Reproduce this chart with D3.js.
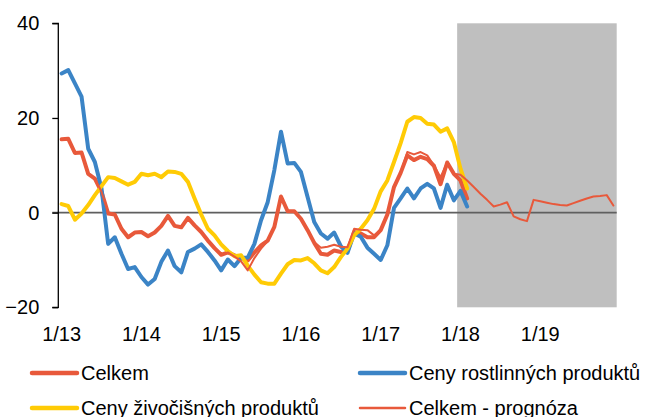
<!DOCTYPE html>
<html>
<head>
<meta charset="utf-8">
<script src="https://cdn.jsdelivr.net/npm/d3@7"></script>
<style>
  html, body { margin: 0; padding: 0; background: #fff; }
  svg { display: block; font-family: "Liberation Sans", Arial, sans-serif; }
</style>
</head>
<body>
<svg id="chart" width="645" height="417"></svg>
<script>
// ---- data ----
const years = [13, 14, 15, 16, 17, 18, 19];
const categories = years.flatMap(yr => d3.range(1, 13).map(m => `${m}/${yr}`));
const tickLabels = ["1/13", "1/14", "1/15", "1/16", "1/17", "1/18", "1/19"];
const yTicks = [-20, 0, 20, 40];
const forecastStart = "1/18";

const celkem = [15.5, 15.6, 12.6, 12.7, 8.2, 7.2, 4.4, -0.2, -0.4, -3.4, -5.2, -4.2,
  -4.1, -5.0, -4.2, -2.8, -0.7, -2.8, -3.1, -1.1, -2.7, -4.1, -5.9, -7.5,
  -8.9, -8.4, -9.0, -9.6, -10.1, -8.4, -6.9, -5.9, -3.0, 3.4, 0.3, 0.3,
  -1.3, -3.7, -6.4, -8.7, -8.9, -8.0, -8.3, -8.2, -4.1, -4.4, -5.2, -5.2,
  -3.7, -0.4, 5.4, 8.4, 12.1, 11.1, 11.8, 11.3, 9.9, 6.0, 10.6, 8.2,
  6.8, 3.0];

const rostlinne = [29.4, 30.1, 27.3, 24.5, 13.5, 10.7, 5.1, -6.6, -5.2, -8.7, -11.9, -11.5,
  -13.6, -15.2, -14.0, -10.4, -8.0, -11.3, -12.6, -8.3, -7.6, -6.7, -8.3, -10.1,
  -12.2, -9.9, -11.3, -9.6, -9.5, -6.6, -1.6, 2.2, 9.0, 17.1, 10.4, 10.5,
  8.6, 3.3, -2.0, -4.4, -5.5, -4.2, -7.1, -8.5, -4.4, -5.1, -7.4, -8.7,
  -10.0, -6.9, 1.0, 3.0, 5.1, 3.0, 5.1, 6.1, 5.1, 1.0, 5.9, 2.6,
  4.6, 1.3];

const zivocisne = [1.8, 1.4, -1.5, -0.2, 1.6, 3.7, 5.6, 7.5, 7.3, 6.6, 5.9, 6.5,
  8.2, 7.9, 8.2, 7.5, 8.7, 8.6, 8.2, 6.5, 3.0, -0.4, -3.4, -4.8,
  -6.7, -8.1, -9.2, -9.0, -11.2, -13.1, -14.7, -15.0, -15.0, -12.9, -10.9, -10.0,
  -10.1, -9.6, -10.7, -12.2, -12.8, -11.5, -9.4, -7.6, -4.8, -3.4, -1.6, 0.8,
  4.5, 6.8, 10.7, 14.7, 19.2, 20.2, 20.0, 18.8, 18.6, 17.1, 17.8, 14.9,
  9.3, 5.1];

const prognoza = [15.5, 15.6, 12.6, 12.7, 8.2, 7.2, 4.4, -0.2, -0.4, -3.4, -5.2, -4.2,
  -4.1, -5.0, -4.2, -2.8, -0.7, -2.8, -3.1, -1.1, -2.7, -4.1, -5.9, -7.5,
  -8.9, -8.4, -9.3, -10.3, -12.2, -9.6, -7.6, -6.0, -3.0, 3.4, 0.3, 0.3,
  -1.3, -3.7, -6.2, -7.4, -7.2, -6.8, -7.2, -7.3, -3.4, -3.6, -3.7, -4.8,
  -3.7, -0.4, 5.4, 8.4, 12.8, 12.3, 12.8, 12.1, 10.0, 7.5, 10.6, 8.2,
  8.0, 6.8, 5.4, 4.0, 2.7, 1.3, 1.7, 2.2, -0.8, -1.4, -1.8, 2.7,
  2.4, 2.1, 1.8, 1.6, 1.5, 2.0, 2.5, 3.0, 3.4, 3.5, 3.7, 1.5];

const seriesNames = ["Celkem", "Ceny rostlinných produktů", "Ceny živočišných produktů", "Celkem - prognóza"];
const seriesColors = ["#E8593B", "#3B84C6", "#FFCB05", "#E8593B"];

// ---- layout ----
const svg = d3.select("#chart");
const plotLeft = 58.3, plotRight = 616.7, plotTop = 23.3, plotBottom = 307.3;

const x = d3.scaleBand().domain(categories).range([plotLeft, plotRight]).padding(0);
const y = d3.scaleLinear().domain([-20, 40]).range([plotBottom, plotTop]);
const cx = i => x(categories[i]) + x.bandwidth() / 2;

// forecast shading
svg.append("rect")
  .attr("x", x(forecastStart))
  .attr("y", y(40))
  .attr("width", plotRight - x(forecastStart))
  .attr("height", y(-20) - y(40))
  .attr("fill", "#bfbfbf");

// zero line
svg.append("line")
  .attr("x1", plotLeft - 6).attr("x2", plotRight)
  .attr("y1", y(0)).attr("y2", y(0))
  .attr("stroke", "#5f5f5f").attr("stroke-width", 1.8);

// y axis
const yAxis = svg.append("g")
  .attr("transform", `translate(${plotLeft},0)`)
  .call(d3.axisLeft(y).tickValues(yTicks).tickSize(6).tickPadding(13).tickFormat(d3.format("d")));
yAxis.select(".domain").attr("stroke", "#000").attr("stroke-width", 1.3)
  .attr("d", `M-6,${y(-20)}H0V${y(40)}H-6`);
yAxis.selectAll(".tick line").attr("stroke", "#000").attr("stroke-width", 1.3);
yAxis.selectAll("text").attr("font-size", 20).attr("fill", "#000")
  .attr("font-family", "Liberation Sans, Arial, sans-serif");

// x axis labels
const xAxis = svg.append("g")
  .attr("transform", `translate(0,${plotBottom})`)
  .call(d3.axisBottom(x).tickValues(tickLabels).tickSize(0).tickPadding(19.5));
xAxis.select(".domain").remove();
xAxis.selectAll("text").attr("font-size", 20).attr("fill", "#000")
  .attr("font-family", "Liberation Sans, Arial, sans-serif");

// lines
const line = d3.line().x((d, i) => cx(i)).y(d => y(d)).curve(d3.curveLinear);
const allSeries = [celkem, rostlinne, zivocisne, prognoza];
const widths = [4, 4, 4, 2];
allSeries.forEach((s, k) => {
  svg.append("path")
    .datum(s)
    .attr("d", line)
    .attr("fill", "none")
    .attr("stroke", seriesColors[k])
    .attr("stroke-width", widths[k])
    .attr("stroke-linejoin", "round")
    .attr("stroke-linecap", "round");
});

// legend
const legendPos = [[32, 373], [360, 373], [32, 408], [360, 408]];
seriesNames.forEach((name, k) => {
  const [lx, ly] = legendPos[k];
  const g = svg.append("g").attr("transform", `translate(${lx},${ly})`);
  g.append("line").attr("x1", 0).attr("x2", 45).attr("y1", 0).attr("y2", 0)
    .attr("stroke", seriesColors[k]).attr("stroke-width", widths[k] + 0.5)
    .attr("stroke-linecap", "round");
  g.append("text").attr("x", 49).attr("y", 7).attr("font-size", 20)
    .attr("fill", "#000").text(name);
});
</script>
</body>
</html>
